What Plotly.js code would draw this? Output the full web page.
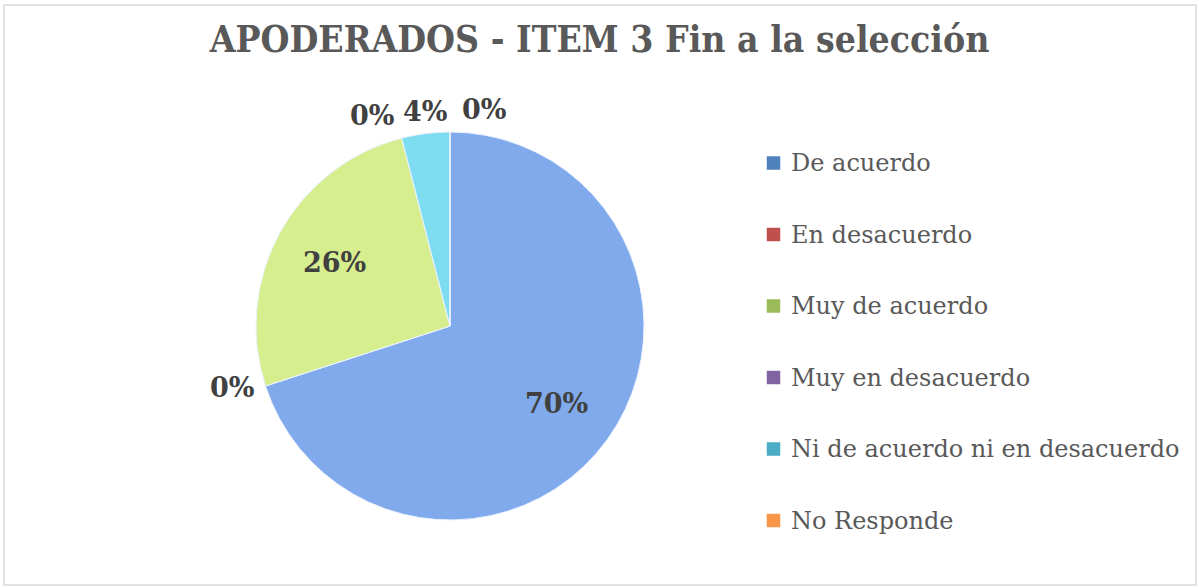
<!DOCTYPE html>
<html>
<head>
<meta charset="utf-8">
<script src="https://cdn.plot.ly/plotly-3.0.1.min.js"></script>
<style>html,body{margin:0;padding:0;background:#fff;}#chart{width:1199px;height:587px;}</style>
</head>
<body>
<div id="chart"></div>
<script>
// Data
const categories = ["De acuerdo", "En desacuerdo", "Muy de acuerdo", "Muy en desacuerdo", "Ni de acuerdo ni en desacuerdo", "No Responde"];
const percentValues = [70, 0, 26, 0, 4, 0];
const sliceColors = ["#80AAEC", "#C0504D", "#D6EE8E", "#8064A2", "#7EDCF0", "#F79646"];
const legendColors = ["#4F81BD", "#C0504D", "#9BBB59", "#8064A2", "#4BACC6", "#F79646"];

const W = 1199, H = 587;
const cx = 450, cy = 326, r = 194;

const trace = {
  type: "pie",
  labels: categories,
  values: percentValues,
  sort: false,
  direction: "clockwise",
  rotation: 0,
  marker: {colors: sliceColors, line: {color: "#EAF2FF", width: 1}},
  textinfo: "none",
  hoverinfo: "label+percent",
  showlegend: false,
  domain: {x: [(cx - r) / W, (cx + r) / W], y: [1 - (cy + r) / H, 1 - (cy - r) / H]}
};

const shapes = [{
  type: "rect", xref: "paper", yref: "paper",
  x0: 4 / W, x1: 1 - 3 / W, y0: 2 / H, y1: 1 - 5 / H,
  line: {color: "#D9D9D9", width: 1.5}
}];
const annotations = [];

// Percentage labels, placed from each slice's angle
const total = percentValues.reduce((a, b) => a + b, 0);
const labelFont = {family: "DejaVu Serif", size: 27, color: "#404040", weight: "bold"};
let cum = 0;
percentValues.forEach((v, i) => {
  const frac = v / total;
  const txt = Math.round(frac * 100) + "%";
  const startF = cum;
  cum += frac;
  if (frac >= 0.1) {
    const a = 2 * Math.PI * (startF + frac / 2);
    const d = 0.68 * r;
    annotations.push({xref: "paper", yref: "paper",
      x: (cx + d * Math.sin(a)) / W, y: 1 - (cy - d * Math.cos(a)) / H,
      xanchor: "center", yanchor: "middle", showarrow: false, text: txt, font: labelFont});
  } else {
    const f = v === 0 ? (startF % 1) : (startF + frac / 2);
    const a = 2 * Math.PI * f;
    const s = Math.sin(a), c = Math.cos(a);
    const d = r + 5;
    let xa, ya, xs = 0;
    if (v > 0) { xa = "center"; }
    else if (s >= 0) { xa = "left"; xs = 10; }
    else { xa = "right"; xs = -5; }
    ya = c > 0.5 ? "bottom" : (c < -0.5 ? "top" : "middle");
    annotations.push({xref: "paper", yref: "paper",
      x: (cx + d * s) / W, y: 1 - (cy - d * c) / H, xshift: xs,
      xanchor: xa, yanchor: ya, showarrow: false, text: txt, font: labelFont});
  }
});

// Legend
const legX = 767, legY0 = 163, legStep = 71.5, sw = 13;
categories.forEach((c, i) => {
  const y = legY0 + i * legStep;
  shapes.push({
    type: "rect", xref: "paper", yref: "paper",
    x0: legX / W, x1: (legX + sw) / W,
    y0: 1 - (y + sw / 2) / H, y1: 1 - (y - sw / 2) / H,
    fillcolor: legendColors[i], line: {color: legendColors[i], width: 0.5}
  });
  annotations.push({
    xref: "paper", yref: "paper", x: (legX + sw + 9) / W, y: 1 - y / H,
    xanchor: "left", yanchor: "middle", showarrow: false,
    text: c, font: {family: "DejaVu Serif", size: 24, color: "#595959"}
  });
});

const layout = {
  width: W, height: H,
  margin: {l: 0, r: 0, t: 0, b: 0},
  paper_bgcolor: "#FFFFFF",
  title: {
    text: "<b>APODERADOS - ITEM 3 Fin a la selección</b>",
    font: {family: "DejaVu Serif Condensed, DejaVu Serif", size: 37, color: "#595959"},
    x: 0.5, xanchor: "center", y: 1 - 39 / H, yanchor: "middle"
  },
  showlegend: false,
  shapes: shapes,
  annotations: annotations
};

Plotly.newPlot("chart", [trace], layout, {displayModeBar: false});
</script>
</body>
</html>
